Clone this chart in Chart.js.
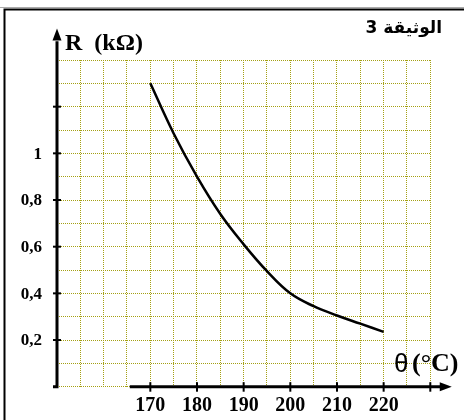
<!DOCTYPE html>
<html>
<head>
<meta charset="utf-8">
<script src="https://cdn.jsdelivr.net/npm/chart.js@4"></script>
<style>
  html, body { margin: 0; padding: 0; background: #fff; }
  #wrap { width: 464px; height: 420px; position: relative; }
</style>
</head>
<body>
<div id="wrap"><canvas id="grafico"></canvas></div>
<script>
const temperaturas = [170, 175, 180, 185, 190, 195, 200, 205, 210, 215, 220];
const resistencias = [1.30, 1.085, 0.90, 0.74, 0.61, 0.495, 0.40, 0.345, 0.305, 0.27, 0.235];
const etiquetasX = [170, 180, 190, 200, 210, 220];
const marcasX = [170, 180, 190, 200, 210, 220, 230];
const etiquetasY = [0.2, 0.4, 0.6, 0.8, 1];
const marcasY = [0.2, 0.4, 0.6, 0.8, 1, 1.2];
const tituloY = 'R (kΩ)';
const simboloX = 'θ';
const unidadX = '(°C)';
const documento = 'الوثيقة 3';

const serif = '"Liberation Serif", "Times New Roman", serif';

const ejes = {
  id: 'ejes',
  afterDraw(chart) {
    const ctx = chart.ctx;
    const sx = chart.scales.x;
    const sy = chart.scales.y;
    const x0 = sx.getPixelForValue(150);
    const y0 = sy.getPixelForValue(0);

    ctx.save();
    // marco
    ctx.strokeStyle = '#aaa';
    ctx.lineWidth = 1;
    ctx.beginPath(); ctx.moveTo(0, 7.5); ctx.lineTo(464, 7.5); ctx.stroke();
    ctx.strokeStyle = '#000';
    ctx.lineWidth = 2;
    ctx.beginPath();
    ctx.moveTo(464, 9.5); ctx.lineTo(4.5, 9.5); ctx.lineTo(4.5, 420);
    ctx.stroke();

    // eje R
    ctx.lineWidth = 3;
    ctx.beginPath();
    ctx.moveTo(x0 - 4, y0); ctx.lineTo(x0, y0);
    ctx.lineTo(x0, sy.getPixelForValue(1.48));
    ctx.stroke();
    const puntaY = sy.getPixelForValue(1.535);
    ctx.fillStyle = '#000';
    ctx.beginPath();
    ctx.moveTo(x0, puntaY); ctx.lineTo(x0 - 4.5, puntaY + 12); ctx.lineTo(x0 + 4.5, puntaY + 12);
    ctx.closePath(); ctx.fill();

    // eje theta
    ctx.beginPath();
    ctx.moveTo(sx.getPixelForValue(165.6), y0);
    ctx.lineTo(sx.getPixelForValue(232.5), y0);
    ctx.stroke();
    const puntaX = sx.getPixelForValue(234.6);
    ctx.beginPath();
    ctx.moveTo(puntaX, y0); ctx.lineTo(puntaX - 12, y0 - 4.5); ctx.lineTo(puntaX - 12, y0 + 4.5);
    ctx.closePath(); ctx.fill();

    // marcas
    ctx.lineWidth = 2;
    marcasY.forEach(v => {
      const p = sy.getPixelForValue(v);
      ctx.beginPath(); ctx.moveTo(x0 - 4, p); ctx.lineTo(x0 + 4, p); ctx.stroke();
    });
    marcasX.forEach(v => {
      const p = sx.getPixelForValue(v);
      ctx.beginPath(); ctx.moveTo(p, y0 - 4.5); ctx.lineTo(p, y0 + 5); ctx.stroke();
    });

    // etiquetas
    ctx.font = 'bold 17px ' + serif;
    ctx.textAlign = 'right';
    ctx.textBaseline = 'middle';
    etiquetasY.forEach(v => {
      ctx.fillText(String(v).replace('.', ','), 42, sy.getPixelForValue(v) + 1);
    });
    ctx.font = 'bold 20px ' + serif;
    ctx.textAlign = 'center';
    etiquetasX.forEach(v => {
      ctx.fillText(String(v), sx.getPixelForValue(v), 406);
    });

    // titulos
    ctx.textBaseline = 'alphabetic';
    ctx.textAlign = 'left';
    ctx.font = 'bold 24px ' + serif;
    ctx.wordSpacing = '6px';
    ctx.fillText(tituloY, 65, 50);
    ctx.wordSpacing = '0px';
    ctx.font = 'bold 26px ' + serif;
    ctx.fillText(unidadX, 412, 371);
    ctx.font = '26px "Liberation Sans", Arial, sans-serif';
    ctx.fillText(simboloX, 394, 372);

    ctx.font = 'bold 17px "DejaVu Sans", sans-serif';
    ctx.textAlign = 'right';
    ctx.direction = 'rtl';
    ctx.fillText(documento, 442, 33);
    ctx.restore();
  }
};

const ctx = document.getElementById('grafico');

const rejilla = { color: 'rgb(165,160,20)', lineWidth: 1, drawTicks: false };

new Chart(ctx, {
  type: 'line',
  data: {
    datasets: [{
      label: 'R',
      data: temperaturas.map((t, i) => ({ x: t, y: resistencias[i] })),
      borderColor: '#000',
      borderWidth: 2.5,
      pointRadius: 0,
      tension: 0.4,
      fill: false
    }]
  },
  options: {
    responsive: true,
    maintainAspectRatio: false,
    animation: false,
    devicePixelRatio: 1,
    layout: { padding: { left: 57, right: 33.7, top: 60, bottom: 33.3 } },
    plugins: { legend: { display: false }, tooltip: { enabled: false } },
    scales: {
      x: {
        type: 'linear',
        min: 150,
        max: 230,
        ticks: { display: false, stepSize: 5 },
        border: { display: false, dash: [1, 1] },
        grid: rejilla
      },
      y: {
        type: 'linear',
        min: 0,
        max: 1.4,
        ticks: { display: false, stepSize: 0.1 },
        border: { display: false, dash: [1, 1] },
        grid: rejilla
      }
    }
  },
  plugins: [ejes]
});
</script>
</body>
</html>
